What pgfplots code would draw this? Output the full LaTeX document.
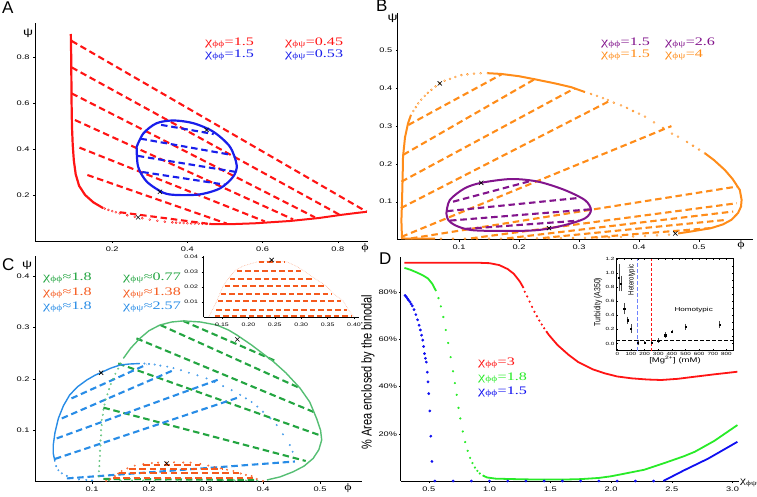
\documentclass[border=0pt]{standalone}
\usepackage{fontspec}
\setmainfont{Liberation Sans}[FakeStretch=1.4]
\newfontfamily\serifg{Liberation Serif}[FakeStretch=1.4]
\newfontfamily\plainsans{Liberation Sans}
\usepackage{pgfplots}
\pgfplotsset{compat=1.18}
\definecolor{cRed}{RGB}{255,20,20}
\definecolor{cBlue}{RGB}{25,30,235}
\definecolor{cOrange}{RGB}{255,140,25}
\definecolor{cPurple}{RGB}{130,20,140}
\definecolor{cGreen}{RGB}{35,165,65}
\definecolor{cGreenL}{RGB}{85,190,115}
\definecolor{cOrRed}{RGB}{245,90,30}
\definecolor{cSky}{RGB}{40,140,230}
\definecolor{dGreen}{RGB}{40,235,40}
\definecolor{dBlue}{RGB}{15,15,240}
\newcommand{\tl}{\fontsize{6.6}{7}\selectfont}
\newcommand{\lgf}{\serifg\fontsize{11.5}{12}\selectfont}
\newcommand{\tie}[3]{\addplot[#1] coordinates {#2 #3};}
\pgfplotsset{panel/.style={scale only axis, axis lines=left, axis line style={-, line width=0.9pt},
  tick style={black, line width=0.4pt}, major tick length=2pt, tick align=outside,
  ticklabel style={font=\tl}, /pgf/number format/assume math mode=true, clip=false}}
\tikzset{td/.style={line width=2.1pt, dash pattern=on 6.5pt off 3.8pt},
  bin/.style={line width=2pt},
  circ/.style={only marks, mark=o, mark size=1pt, mark options={line width=0.4pt}},
  xm/.style={only marks, mark=x, mark size=3pt, black, mark options={line width=0.6pt}}}
\begin{document}
\begin{tikzpicture}[x=1pt,y=1pt]
\useasboundingbox (0pt,0pt) rectangle (757pt,496pt);
% ================= Panel A =================
\begin{axis}[panel, at={(35.1pt,255pt)}, anchor=south west, width=332.8pt, height=218.5pt,
  xmin=-0.005, xmax=0.88, ymin=0, ymax=0.95, xtick={0.2,0.4,0.6,0.8}, ytick={0.2,0.4,0.6,0.8}]
\tie{cRed,td}{(0.092,0.870)}{(0.877,0.127)}
\tie{cRed,td}{(0.092,0.755)}{(0.806,0.113)}
\tie{cRed,td}{(0.092,0.642)}{(0.739,0.103)}
\tie{cRed,td}{(0.101,0.526)}{(0.681,0.094)}
\tie{cRed,td}{(0.113,0.406)}{(0.606,0.085)}
\tie{cRed,td}{(0.134,0.287)}{(0.504,0.076)}
\tie{cRed,td}{(0.22,0.125)}{(0.46,0.074)}
\addplot[cRed, bin, line width=2.2pt] coordinates {(0.090,0.90) (0.091,0.80) (0.0915,0.70) (0.092,0.60) (0.093,0.50) (0.095,0.42) (0.098,0.35) (0.103,0.29) (0.112,0.24) (0.128,0.20) (0.15,0.168) (0.176,0.143)};
\addplot[cRed, circ] coordinates {(0.18,0.141) (0.19,0.135) (0.20,0.130) (0.21,0.125) (0.22,0.120) (0.24,0.112) (0.26,0.105) (0.28,0.099) (0.30,0.093) (0.32,0.088) (0.34,0.084) (0.36,0.081) (0.37,0.080) (0.38,0.079) (0.39,0.078) (0.40,0.077) (0.41,0.0765) (0.42,0.076) (0.43,0.0755) (0.44,0.075) (0.45,0.0745) (0.46,0.074)};
\addplot[cRed, bin] coordinates {(0.46,0.074) (0.487,0.073) (0.513,0.073) (0.58,0.077) (0.673,0.087) (0.75,0.10) (0.806,0.113) (0.85,0.122) (0.877,0.127)};
\tie{cBlue,td}{(0.33,0.505)}{(0.47,0.465)}
\tie{cBlue,td}{(0.275,0.445)}{(0.515,0.375)}
\tie{cBlue,td}{(0.268,0.37)}{(0.53,0.30)}
\tie{cBlue,td}{(0.28,0.30)}{(0.50,0.245)}
\addplot[cBlue, bin, line width=2.2pt, smooth] coordinates {(0.265,0.409) (0.283,0.468) (0.318,0.512) (0.363,0.524) (0.416,0.512) (0.469,0.475) (0.513,0.41) (0.531,0.330) (0.522,0.28) (0.487,0.229) (0.434,0.203) (0.372,0.200) (0.336,0.210) (0.292,0.258) (0.269,0.323) (0.265,0.409)};
\addplot[xm] coordinates {(0.269,0.103) (0.327,0.214) (0.451,0.483)};
\end{axis}
% ================= Panel B =================
\begin{axis}[panel, at={(397.8pt,256.5pt)}, anchor=south west, width=355.2pt, height=226.8pt,
  xmin=-0.002, xmax=0.59, ymin=0, ymax=0.6, xtick={0.1,0.2,0.3,0.4,0.5}, ytick={0.1,0.2,0.3,0.4,0.5}]
\tie{cOrange,td}{(0.0156,0.303)}{(0.171,0.437)}
\tie{cOrange,td}{(0.007,0.224)}{(0.226,0.424)}
\tie{cOrange,td}{(0.004,0.153)}{(0.293,0.40)}
\tie{cOrange,td}{(0.003,0.083)}{(0.354,0.369)}
\tie{cOrange,td}{(0.004,0.007)}{(0.454,0.30)}
\tie{cOrange,td}{(0.02,0.003)}{(0.563,0.14)}
\tie{cOrange,td}{(0.12,0.003)}{(0.563,0.096)}
\tie{cOrange,td}{(0.18,0.003)}{(0.557,0.074)}
\tie{cOrange,td}{(0.24,0.004)}{(0.546,0.052)}
\tie{cOrange,td}{(0.32,0.005)}{(0.518,0.030)}
\addplot[cOrange, bin] coordinates {(0.06,0.002) (0.02,0.002) (0.005,0.003) (0.004,0.05) (0.005,0.1) (0.006,0.16) (0.0067,0.219) (0.01,0.27) (0.015,0.307) (0.02,0.33)};
\addplot[cOrange, circ] coordinates {(0.024,0.34) (0.028,0.35) (0.032,0.36) (0.037,0.37) (0.043,0.38) (0.048,0.388) (0.054,0.396) (0.061,0.405) (0.068,0.413) (0.076,0.42) (0.085,0.425) (0.094,0.43) (0.104,0.435) (0.114,0.437) (0.125,0.439) (0.136,0.44) (0.148,0.44)};
\addplot[cOrange, bin] coordinates {(0.148,0.44) (0.17,0.438) (0.2,0.432) (0.226,0.424) (0.26,0.413) (0.287,0.403) (0.31,0.39)};
\addplot[cOrange, circ] coordinates {(0.32,0.385) (0.33,0.38) (0.34,0.374) (0.348,0.369) (0.358,0.362) (0.37,0.355) (0.38,0.348) (0.39,0.34) (0.40,0.333) (0.41,0.325) (0.425,0.31) (0.44,0.295) (0.455,0.28) (0.465,0.272) (0.48,0.258) (0.49,0.248) (0.50,0.238) (0.51,0.228)};
\addplot[cOrange, bin] coordinates {(0.51,0.228) (0.525,0.21) (0.543,0.184) (0.556,0.16) (0.568,0.131) (0.571,0.105) (0.57,0.087) (0.565,0.07) (0.554,0.052) (0.54,0.04) (0.52,0.03) (0.49,0.022) (0.465,0.016)};
\addplot[cOrange, circ] coordinates {(0.45,0.013) (0.43,0.011) (0.41,0.009) (0.39,0.008) (0.37,0.007) (0.35,0.006) (0.33,0.005) (0.31,0.0045) (0.29,0.004) (0.27,0.0035) (0.25,0.003) (0.23,0.003) (0.21,0.003) (0.19,0.0025) (0.17,0.0025) (0.15,0.0025) (0.13,0.002) (0.11,0.002) (0.09,0.002) (0.07,0.002)};
\tie{cPurple,td}{(0.09,0.10)}{(0.22,0.155)}
\tie{cPurple,td}{(0.08,0.075)}{(0.30,0.11)}
\tie{cPurple,td}{(0.085,0.05)}{(0.32,0.08)}
\tie{cPurple,td}{(0.11,0.028)}{(0.30,0.05)}
\addplot[cPurple, bin, smooth] coordinates {(0.079,0.069) (0.0845,0.104) (0.109,0.135) (0.137,0.15) (0.187,0.16) (0.232,0.153) (0.276,0.131) (0.31,0.104) (0.32,0.078) (0.31,0.056) (0.276,0.038) (0.232,0.025) (0.176,0.0225) (0.12,0.025) (0.093,0.038) (0.082,0.052) (0.079,0.069)};
\addplot[xm] coordinates {(0.068,0.413) (0.137,0.150) (0.25,0.030) (0.4605,0.016)};
\end{axis}
% ================= Panel C =================
\begin{axis}[panel, at={(35pt,14.5pt)}, anchor=south west, width=326.6pt, height=225.7pt,
  xmin=0, xmax=0.573, ymin=0, ymax=0.44, xtick={0.1,0.2,0.3,0.4,0.5}, ytick={0.1,0.2,0.3,0.4}]
\tie{cGreen,td}{(0.26,0.313)}{(0.42,0.236)}
\tie{cGreen,td}{(0.22,0.305)}{(0.465,0.182)}
\tie{cGreen,td}{(0.178,0.279)}{(0.49,0.135)}
\tie{cGreen,td}{(0.146,0.230)}{(0.50,0.090)}
\tie{cGreen,td}{(0.12,0.144)}{(0.475,0.040)}
\tie{cGreen,td}{(0.12,0.005)}{(0.39,0.003)}
\addplot[cGreenL, circ, mark size=0.8pt] coordinates {(0.112,0.01) (0.112,0.02) (0.113,0.03) (0.113,0.04) (0.114,0.05) (0.114,0.06) (0.115,0.07) (0.115,0.08) (0.116,0.09) (0.116,0.10) (0.117,0.11) (0.117,0.12) (0.119,0.13) (0.12,0.14) (0.122,0.15) (0.124,0.16) (0.127,0.17) (0.13,0.18) (0.133,0.19) (0.137,0.20) (0.141,0.21) (0.146,0.22) (0.15,0.23)};
\addplot[cGreenL, line width=1.4pt] coordinates {(0.155,0.24) (0.168,0.26) (0.184,0.279) (0.2,0.294) (0.219,0.305) (0.24,0.311) (0.26,0.313) (0.29,0.311) (0.319,0.305) (0.34,0.295) (0.355,0.285) (0.38,0.266) (0.418,0.234) (0.44,0.212) (0.465,0.182) (0.482,0.155) (0.494,0.123) (0.501,0.10) (0.503,0.081) (0.498,0.062) (0.488,0.045) (0.472,0.030) (0.453,0.019) (0.43,0.009) (0.407,0.003)};
\addplot[cGreenL, circ, mark size=0.8pt] coordinates {(0.39,0.002) (0.37,0.002) (0.35,0.002) (0.33,0.002) (0.31,0.002) (0.29,0.002) (0.27,0.002) (0.25,0.002) (0.23,0.002) (0.21,0.002) (0.19,0.002) (0.17,0.002) (0.15,0.002) (0.13,0.002)};
\tie{cSky,td}{(0.064,0.162)}{(0.196,0.228)}
\tie{cSky,td}{(0.047,0.123)}{(0.243,0.217)}
\tie{cSky,td}{(0.038,0.084)}{(0.325,0.20)}
\tie{cSky,td}{(0.035,0.044)}{(0.36,0.165)}
\tie{cSky,td}{(0.056,0.006)}{(0.456,0.039)}
\addplot[cSky, line width=1.4pt] coordinates {(0.035,0.039) (0.032,0.055) (0.032,0.071) (0.035,0.095) (0.041,0.123) (0.05,0.148) (0.061,0.169) (0.075,0.185) (0.091,0.198) (0.105,0.207) (0.117,0.213) (0.133,0.221) (0.149,0.227) (0.165,0.229) (0.184,0.23)};
\addplot[cSky, circ, mark size=0.8pt] coordinates {(0.192,0.23) (0.2,0.229) (0.21,0.228) (0.22,0.226) (0.232,0.224) (0.243,0.221) (0.256,0.217) (0.27,0.212) (0.285,0.207) (0.301,0.201) (0.315,0.194) (0.33,0.186) (0.345,0.178) (0.36,0.169) (0.37,0.162) (0.38,0.155) (0.39,0.146) (0.40,0.136) (0.413,0.123) (0.424,0.11) (0.435,0.092) (0.447,0.071) (0.452,0.058)};
\addplot[cSky, circ, mark size=0.8pt] coordinates {(0.037,0.03) (0.041,0.022) (0.047,0.016) (0.056,0.011) (0.066,0.007) (0.077,0.004) (0.09,0.003) (0.1,0.002)};
\addplot[cOrRed, circ, mark size=0.8pt] coordinates {(0.125,0.001) (0.132,0.005) (0.14,0.0105) (0.146,0.0156) (0.152,0.0205) (0.162,0.0256) (0.175,0.031) (0.19,0.034) (0.205,0.036) (0.216,0.0367) (0.23,0.037) (0.244,0.0375) (0.26,0.037) (0.273,0.0367) (0.29,0.034) (0.304,0.031) (0.315,0.028) (0.326,0.0256) (0.337,0.023) (0.348,0.0205) (0.361,0.0156) (0.37,0.013) (0.38,0.0105) (0.389,0.005) (0.40,0.001)};
\tie{cOrRed,td}{(0.19,0.033)}{(0.29,0.033)}
\tie{cOrRed,td}{(0.165,0.025)}{(0.33,0.025)}
\tie{cOrRed,td}{(0.148,0.016)}{(0.36,0.016)}
\tie{cOrRed,td}{(0.137,0.007)}{(0.385,0.007)}
\addplot[xm] coordinates {(0.116,0.212) (0.355,0.277) (0.231,0.035)};
\end{axis}
% ================= Inset C =================
\begin{axis}[panel, at={(203.5pt,179pt)}, anchor=south west, width=155.8pt, height=61.5pt,
  xmin=0.115, xmax=0.41, ymin=0, ymax=0.041, axis line style={-, line width=0.6pt},
  ticklabel style={font=\fontsize{5}{5}\selectfont}, scaled y ticks=false, scaled x ticks=false,
  xtick={0.15,0.2,0.25,0.3,0.35,0.4}, xticklabels={0.15,0.20,0.25,0.30,0.35,0.40},
  ytick={0.01,0.02,0.03,0.04}, yticklabels={0.01,0.02,0.03,0.04}]
\addplot[cOrRed!45, densely dotted, line width=0.6pt] coordinates {(0.125,0.0) (0.132,0.005) (0.14,0.0105) (0.146,0.0156) (0.152,0.0205) (0.162,0.0256) (0.175,0.031) (0.19,0.034) (0.216,0.0367) (0.244,0.0375) (0.273,0.0367) (0.29,0.034) (0.304,0.031) (0.326,0.0256) (0.348,0.0205) (0.361,0.0156) (0.38,0.0105) (0.389,0.005) (0.40,0.0)};
\tie{cOrRed,line width=2pt,dash pattern=on 5.5pt off 3pt}{(0.22,0.0367)}{(0.27,0.0367)}
\tie{cOrRed,line width=2pt,dash pattern=on 5.5pt off 3pt}{(0.178,0.031)}{(0.30,0.031)}
\tie{cOrRed,line width=2pt,dash pattern=on 5.5pt off 3pt}{(0.165,0.0256)}{(0.323,0.0256)}
\tie{cOrRed,line width=2pt,dash pattern=on 5.5pt off 3pt}{(0.155,0.0205)}{(0.345,0.0205)}
\tie{cOrRed,line width=2pt,dash pattern=on 5.5pt off 3pt}{(0.148,0.0156)}{(0.358,0.0156)}
\tie{cOrRed,line width=2pt,dash pattern=on 5.5pt off 3pt}{(0.142,0.0105)}{(0.376,0.0105)}
\tie{cOrRed,line width=2pt,dash pattern=on 5.5pt off 3pt}{(0.139,0.005)}{(0.386,0.005)}
\tie{cOrRed,line width=2pt,dash pattern=on 5.5pt off 3pt}{(0.136,0.0008)}{(0.396,0.0008)}
\addplot[xm] coordinates {(0.244,0.038)};
\end{axis}
% ================= Panel D =================
\begin{axis}[panel, at={(400.8pt,15pt)}, anchor=south west, width=337.8pt, height=224.2pt,
  xmin=0.27, xmax=3.05, ymin=0, ymax=95, xtick={0.5,1,1.5,2,2.5,3},
  xticklabel style={/pgf/number format/.cd, fixed, fixed zerofill, precision=1},
  ytick={20,40,60,80}, yticklabels={20\%,40\%,60\%,80\%}, yticklabel style={inner sep=1.5pt}]
\addplot[cRed, line width=1.8pt] coordinates {(0.3,92.5) (0.6,92.5) (0.9,92.5) (1.0,92.3) (1.08,91.5) (1.15,89.8) (1.2,87.8) (1.25,84.5) (1.28,81.8)};
\addplot[cRed, only marks, mark=*, mark size=0.9pt] coordinates {(1.29,80.2) (1.31,78.2) (1.33,76) (1.35,73.8) (1.37,71.7) (1.39,69.8) (1.41,68) (1.43,66.3) (1.45,64.7) (1.47,63.2)};
\addplot[cRed, line width=1.8pt] coordinates {(1.47,63.2) (1.49,61.8) (1.56,57.6) (1.65,53.5) (1.727,50.5) (1.85,47.3) (1.95,45.6) (2.05,44.3) (2.17,43.5) (2.3,43) (2.414,42.8) (2.55,43.3) (2.69,44.2) (2.85,45.2) (3.04,46.3)};
\addplot[dGreen, line width=1.8pt] coordinates {(0.3,90.3) (0.35,89.5) (0.4,88.4) (0.45,87.2) (0.494,85.8) (0.53,83.5) (0.56,80.5)};
\addplot[dGreen, only marks, mark=*, mark size=0.9pt] coordinates {(0.58,77.5) (0.60,74) (0.62,69.5) (0.64,64) (0.66,58.5) (0.68,52.5) (0.70,46.5) (0.715,41.5) (0.73,36.5) (0.745,31) (0.76,26.5) (0.78,21) (0.80,16.5) (0.82,12.8) (0.84,9.8) (0.86,7.6) (0.88,5.7) (0.90,4.3) (0.92,3.2) (0.95,2.2)};
\addplot[dGreen, line width=1.8pt] coordinates {(0.95,2.2) (0.98,1.5) (1.05,1.0) (1.2,0.8) (1.4,0.6) (1.6,0.6) (1.75,0.8) (1.9,1.3) (2.0,2.0) (2.1,3.0) (2.276,4.8) (2.45,7.8) (2.6,10.5) (2.69,12.4) (2.85,17) (3.04,23.7)};
\addplot[dBlue, only marks, mark=*, mark size=1.2pt] coordinates {(0.306,78.6) (0.315,78) (0.325,77.3) (0.335,76.6) (0.345,75.9) (0.355,75) (0.365,74.2) (0.379,72.6) (0.394,70.5) (0.408,68.3) (0.42,66) (0.431,64) (0.441,61.8) (0.451,59.7) (0.458,57) (0.465,54) (0.473,52) (0.48,50.4) (0.488,46.1) (0.494,42) (0.50,37) (0.509,29.7) (0.517,19) (0.526,8.3) (0.55,0) (0.7,0) (0.85,0) (1.0,0) (1.15,0) (1.3,0) (1.45,0) (1.6,0) (1.75,0) (1.9,0) (2.05,0) (2.2,0) (2.35,0)};
\addplot[dBlue, line width=1.8pt] coordinates {(2.43,0) (2.6,4.5) (2.8,9.5) (3.04,16.6)};
\end{axis}
% ================= Inset D =================
\begin{axis}[scale only axis, at={(616pt,145.4pt)}, anchor=south west, width=117.2pt, height=92pt,
  xmin=-10, xmax=850, ymin=-0.1, ymax=1.2, clip=false,
  tick style={black, line width=0.3pt}, major tick length=1.5pt, tick align=inside,
  axis line style={line width=0.5pt},
  ticklabel style={font=\fontsize{4.5}{5}\selectfont, inner sep=1.5pt}, /pgf/number format/assume math mode=true,
  xtick={0,100,200,300,400,500,600,700,800}, ytick={0,0.2,0.4,0.6,0.8,1.0,1.2},
  yticklabel style={/pgf/number format/.cd, fixed, fixed zerofill, precision=1},
  minor x tick num=1, minor y tick num=1, minor tick length=1pt]
\addplot[color={rgb,255:red,110;green,130;blue,255}, line width=1.3pt, dash pattern=on 4pt off 2pt] coordinates {(150,-0.1) (150,1.2)};
\addplot[cRed, line width=0.7pt, dash pattern=on 3pt off 2pt] coordinates {(250,-0.1) (250,1.2)};
\addplot[black, line width=0.7pt, dash pattern=on 3.5pt off 2.5pt] coordinates {(-10,0.05) (850,0.05)};
\addplot[black, only marks, mark=square*, mark size=0.7pt,
  error bars/.cd, y dir=both, y explicit, error bar style={line width=0.3pt, black!70}, error mark options={mark size=0.8pt, line width=0.3pt}]
  coordinates {(10,0.927) +- (0,0.18) (25,0.847) +- (0,0.1) (49,0.494) +- (0,0.07) (75,0.33) +- (0,0.04) (100,0.21) +- (0,0.05) (150,0.014) +- (0,0.03) (200,0.01) +- (0,0.01) (250,0.01) +- (0,0.01) (300,0.04) +- (0,0.02) (350,0.12) +- (0,0.03) (400,0.17) +- (0,0.015) (500,0.235) +- (0,0.03) (750,0.27) +- (0,0.04)};
\node[rotate=90, font=\plainsans\fontsize{6}{6}\selectfont] at (axis cs:105,0.9) {\scalebox{1}[1.3]{Heterotypic}};
\node[font=\fontsize{5.8}{6}\selectfont] at (axis cs:560,0.47) {Homotypic};
\end{axis}
% ================= Texts =================
\node[anchor=north west, font=\plainsans\fontsize{17}{17}\selectfont, inner sep=0pt] at (2pt,494pt) {A};
\node[anchor=north west, font=\plainsans\fontsize{17}{17}\selectfont, inner sep=0pt] at (376pt,496pt) {B};
\node[anchor=north west, font=\plainsans\fontsize{17}{17}\selectfont, inner sep=0pt] at (2pt,238pt) {C};
\node[anchor=north west, font=\plainsans\fontsize{17}{17}\selectfont, inner sep=0pt] at (379pt,243pt) {D};
% axis labels
\node[font=\fontsize{10}{10}\selectfont] at (28pt,463pt) {ψ};
\node[font=\serifg\fontsize{10}{10}\selectfont] at (365pt,248pt) {ϕ};
\node[font=\fontsize{10}{10}\selectfont] at (392.5pt,478pt) {ψ};
\node[font=\serifg\fontsize{10}{10}\selectfont] at (741pt,251pt) {ϕ};
\node[font=\fontsize{10}{10}\selectfont] at (27pt,231pt) {ψ};
\node[font=\serifg\fontsize{10}{10}\selectfont] at (348pt,8pt) {ϕ};
\node[font=\serifg\fontsize{9.5}{10}\selectfont, anchor=west, inner sep=0pt] at (740pt,13pt) {χ\textsubscript{ϕψ}};
\node[rotate=90, font=\plainsans\fontsize{11}{12}\selectfont] at (368pt,124pt) {\scalebox{1}[1.3]{\% Area enclosed by the binodal}};
\node[rotate=90, font=\plainsans\fontsize{6.8}{7}\selectfont] at (598pt,194pt) {\scalebox{1}[1.3]{Turbidity (A350)}};
\node[font=\fontsize{6.8}{7}\selectfont] at (675pt,136pt) {[Mg\textsuperscript{2+}] (mM)};
% legends A
\node[font=\lgf, anchor=west, inner sep=0pt, text=cRed] at (205pt,453pt) {χ\textsubscript{ϕϕ}=1.5};
\node[font=\lgf, anchor=west, inner sep=0pt, text=cBlue] at (205pt,441pt) {χ\textsubscript{ϕϕ}=1.5};
\node[font=\lgf, anchor=west, inner sep=0pt, text=cRed] at (285pt,453pt) {χ\textsubscript{ϕψ}=0.45};
\node[font=\lgf, anchor=west, inner sep=0pt, text=cBlue] at (285pt,441pt) {χ\textsubscript{ϕψ}=0.53};
% legends B
\node[font=\lgf, anchor=west, inner sep=0pt, text=cPurple] at (601pt,453pt) {χ\textsubscript{ϕϕ}=1.5};
\node[font=\lgf, anchor=west, inner sep=0pt, text=cOrange] at (601pt,441pt) {χ\textsubscript{ϕϕ}=1.5};
\node[font=\lgf, anchor=west, inner sep=0pt, text=cPurple] at (665pt,453pt) {χ\textsubscript{ϕψ}=2.6};
\node[font=\lgf, anchor=west, inner sep=0pt, text=cOrange] at (665pt,441pt) {χ\textsubscript{ϕψ}=4};
% legends C
\node[font=\lgf, anchor=west, inner sep=0pt, text=cGreen] at (43pt,218pt) {χ\textsubscript{ϕϕ}≈1.8};
\node[font=\lgf, anchor=west, inner sep=0pt, text=cOrRed] at (43pt,203pt) {χ\textsubscript{ϕϕ}≈1.8};
\node[font=\lgf, anchor=west, inner sep=0pt, text=cSky] at (43pt,189pt) {χ\textsubscript{ϕϕ}≈1.8};
\node[font=\lgf, anchor=west, inner sep=0pt, text=cGreen] at (123pt,218pt) {χ\textsubscript{ϕψ}≈0.77};
\node[font=\lgf, anchor=west, inner sep=0pt, text=cOrRed] at (123pt,203pt) {χ\textsubscript{ϕψ}≈1.38};
\node[font=\lgf, anchor=west, inner sep=0pt, text=cSky] at (123pt,189pt) {χ\textsubscript{ϕψ}≈2.57};
% legends D
\node[font=\lgf, anchor=west, inner sep=0pt, text=cRed] at (478pt,133pt) {χ\textsubscript{ϕϕ}=3};
\node[font=\lgf, anchor=west, inner sep=0pt, text=dGreen] at (478pt,118pt) {χ\textsubscript{ϕϕ}=1.8};
\node[font=\lgf, anchor=west, inner sep=0pt, text=dBlue] at (478pt,104pt) {χ\textsubscript{ϕϕ}=1.5};
\end{tikzpicture}
\end{document}
